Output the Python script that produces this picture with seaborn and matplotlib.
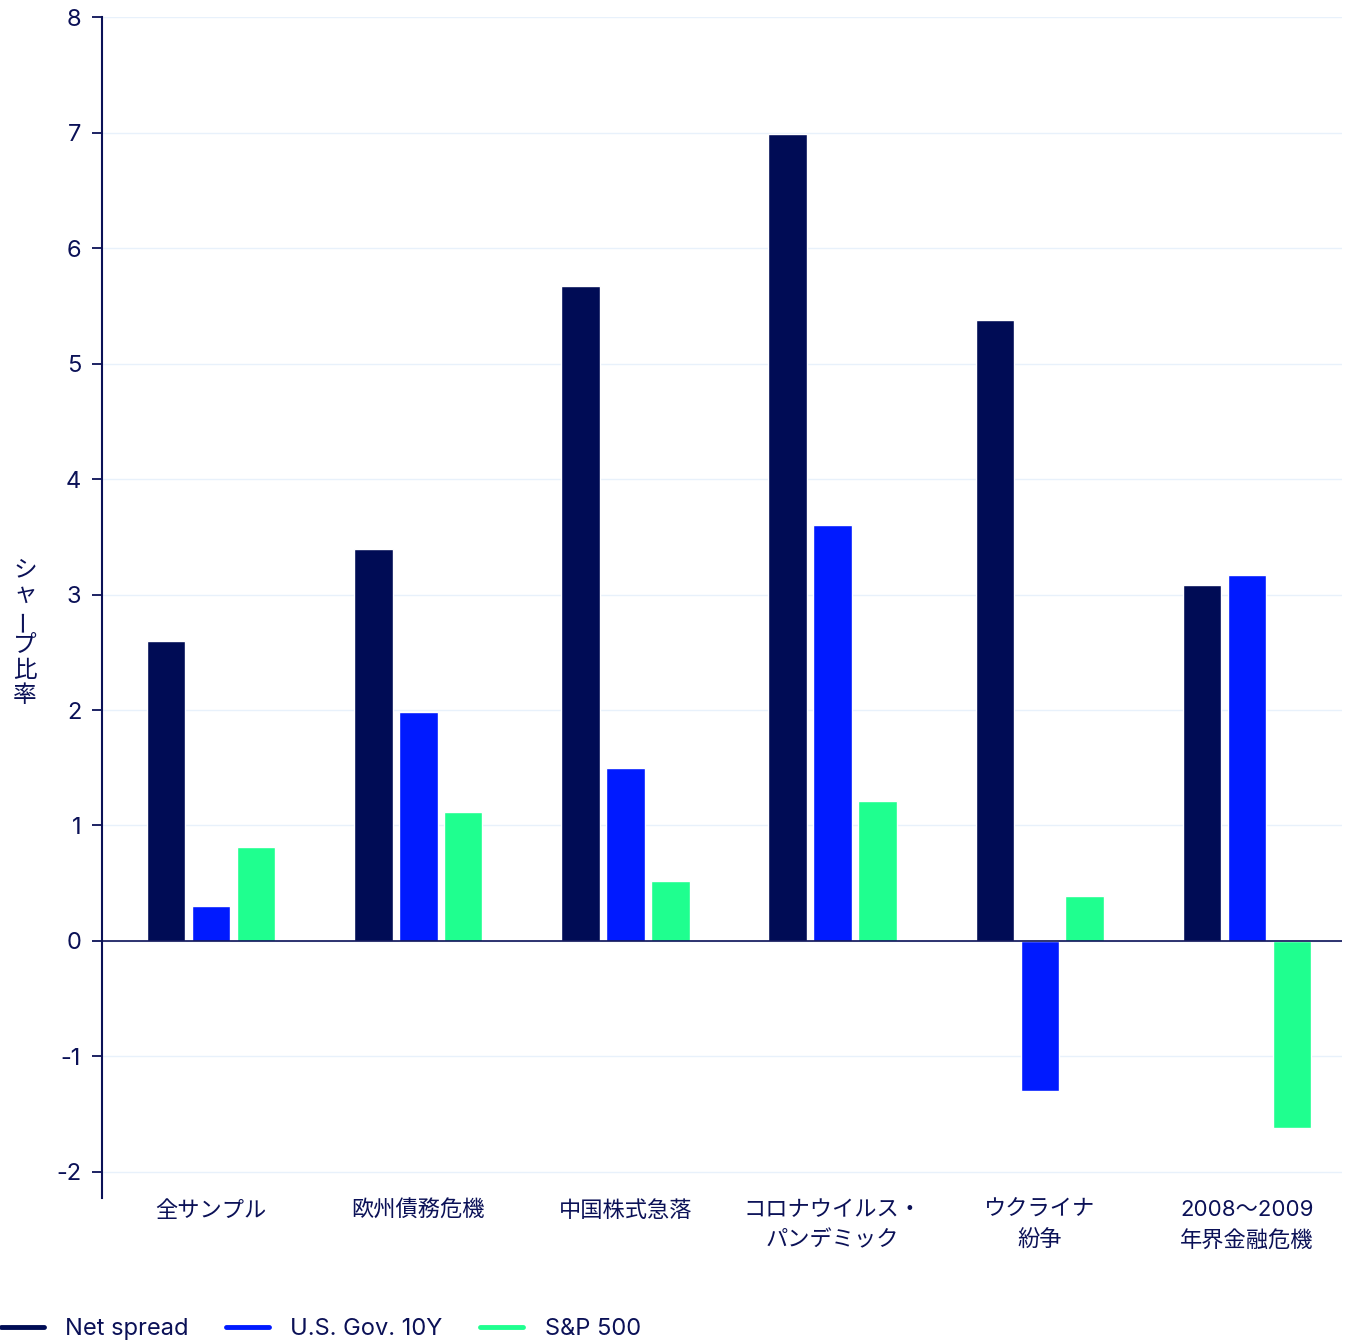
import matplotlib
matplotlib.use("Agg")
import matplotlib.pyplot as plt
from matplotlib.lines import Line2D
import seaborn as sns
import pandas as pd

# Sharpe ratios by market episode
categories = ["全サンプル", "欧州債務危機", "中国株式急落",
              "コロナウイルス・\nパンデミック", "ウクライナ\n紛争", "2008〜2009\n年界金融危機"]
series = ["Net spread", "U.S. Gov. 10Y", "S&P 500"]
net_spread = [2.60, 3.39, 5.67, 6.99, 5.38, 3.08]
us_gov_10y = [0.30, 1.98, 1.50, 3.60, -1.30, 3.17]
sp500 = [0.81, 1.12, 0.52, 1.21, 0.39, -1.62]
yticks = [-2, -1, 0, 1, 2, 3, 4, 5, 6, 7, 8]

colors = ["#000c55", "#001aff", "#1fff8f"]
navy = "#0b1157"
fonts = ["Inter", "Noto Sans CJK JP", "DejaVu Sans"]

sns.set_theme(style="white")
plt.rcParams["font.family"] = fonts
plt.rcParams["axes.unicode_minus"] = False

df = pd.DataFrame({
    "category": categories * 3,
    "series": [s for s in series for _ in categories],
    "value": net_spread + us_gov_10y + sp500,
})

fig = plt.figure(figsize=(13.46, 13.43), dpi=100)
ax = fig.add_axes([0.0758, 0.108, 0.9212, 0.8793])

sns.barplot(data=df, x="category", y="value", hue="series", hue_order=series,
            order=categories, palette=colors, width=0.65, gap=0.14,
            saturation=1, legend=False, ax=ax, zorder=3)

ax.set_xlim(-0.526, 5.458)
ax.set_ylim(-2.225, 8)
ax.set_yticks(yticks)
ax.set_yticklabels([str(t) for t in yticks])
for t in yticks:
    ax.axhline(t, color="#e8f1fb", lw=1.0, zorder=1)
ax.axhline(0, color=navy, lw=1.2, zorder=4)

for s in ["top", "right", "bottom"]:
    ax.spines[s].set_visible(False)
ax.spines["left"].set_color(navy)
ax.spines["left"].set_linewidth(1.5)

ax.tick_params(axis="y", which="major", length=7, width=1.3, color=navy,
               labelcolor=navy, labelsize=17, pad=8, left=True)
ax.tick_params(axis="x", length=0, labelcolor=navy, labelsize=16, pad=1.5)
for lab in ax.get_xticklabels():
    lab.set_linespacing(1.6)
    lab.set_verticalalignment("top")

ax.set_xlabel("")
ax.set_ylabel("")

# Vertical axis title, characters stacked top-to-bottom
title_chars = ["シ", "ャ", "ー", "プ", "比", "率"]
y0 = 1 - 570 / 1343
step = 25.2 / 1343
for i, ch in enumerate(title_chars):
    fig.text(0.0185, y0 - i * step, ch, color=navy, fontsize=17,
             ha="center", va="center", rotation=90 if ch == "ー" else 0,
             family=fonts)

handles = [Line2D([0], [0], color=c, lw=3.5) for c in colors]
fig.legend(handles, series, loc="lower left", bbox_to_anchor=(-0.003, -0.0015),
           ncol=3, frameon=False, fontsize=17, labelcolor=navy,
           handlelength=1.82, handletextpad=0.9, columnspacing=1.6,
           borderaxespad=0, borderpad=0.2)

fig.savefig("out.png", dpi=100, facecolor="white")
